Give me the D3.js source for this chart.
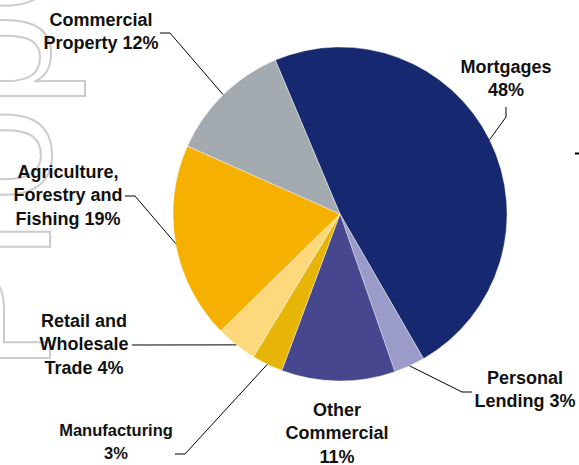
<!doctype html>
<html>
  <head>
    <script src="https://d3js.org/d3.v7.min.js"></script>
    <style>
      body { margin: 0; background: #fff; }
    </style>
  </head>
  <body>
    <script>
    // data
    var sectors = ['Mortgages', 'Personal Lending', 'Other Commercial', 'Manufacturing',
                   'Retail and Wholesale Trade', 'Agriculture, Forestry and Fishing', 'Commercial Property'];
    var shares = [48, 3, 11, 3, 4, 19, 12];
    var labelLines = [
      ['Mortgages', '48%'],
      ['Personal', 'Lending 3%'],
      ['Other', 'Commercial', '11%'],
      ['Manufacturing', '3%'],
      ['Retail and', 'Wholesale', 'Trade 4%'],
      ['Agriculture,', 'Forestry and', 'Fishing 19%'],
      ['Commercial', 'Property 12%']
    ];
    var colors = ['#162870', '#9b9bc9', '#46478f', '#e6b507', '#fdd87c', '#f5b000', '#a4abb0'];

    var width = 579;
    var height = 465;
    var cx = 340, cy = 214, radius = 167;

    // where each label sits, its size and the elbow of its leader line
    var labelLayout = [
      { x: 506, y: 67,  size: 18, elbow: [[506, 107], [506, 117]] },
      { x: 525, y: 378, size: 18, elbow: [[472, 392], [462, 392]] },
      { x: 337, y: 410, size: 18, elbow: null },
      { x: 116, y: 430, size: 16.5, elbow: [[175, 454], [185, 454]] },
      { x: 84,  y: 321, size: 18, elbow: [[132, 345]] },
      { x: 68,  y: 172, size: 18, elbow: [[125, 196], [135, 196]] },
      { x: 101, y: 20,  size: 18, elbow: [[160, 33], [170, 33]] }
    ];

    var data = sectors.map(function(s, i) {
      return { name: s, value: shares[i], color: colors[i], lines: labelLines[i], layout: labelLayout[i] };
    });

    var svg = d3.select('body')
              .append('svg')
              .attr('width', width)
              .attr('height', height);

    // faint outlined watermark on the left edge
    svg.append('text')
      .attr('transform', 'translate(50,372) rotate(-90)')
      .attr('font-family', 'Liberation Sans, Arial, sans-serif')
      .attr('font-size', 170)
      .attr('fill', 'none')
      .attr('stroke', '#cccccc')
      .attr('stroke-width', 2)
      .text('Property');

    var start = -22.8 * Math.PI / 180;
    var pie = d3.pie()
      .sort(null)
      .value(function(d) { return d.value; })
      .startAngle(start)
      .endAngle(start + 2 * Math.PI);

    var arc = d3.arc().innerRadius(0).outerRadius(radius);
    var edge = d3.arc().innerRadius(radius).outerRadius(radius);

    var g = svg.append('g')
      .attr('transform', 'translate(' + cx + ',' + cy + ')');

    var arcs = pie(data);

    g.selectAll('.slice')
      .data(arcs)
      .enter()
      .append('path')
        .attr('class', 'slice')
        .attr('d', arc)
        .attr('fill', function(d) { return d.data.color; })
        .attr('stroke', '#ffffff')
        .attr('stroke-width', 0.4);

    // leader lines from labels to the rim
    var line = d3.line();
    svg.selectAll('.leader')
      .data(arcs.filter(function(d) { return d.data.layout.elbow; }))
      .enter()
      .append('path')
        .attr('class', 'leader')
        .attr('fill', 'none')
        .attr('stroke', '#000')
        .attr('stroke-width', 1)
        .attr('d', function(d) {
          var c = edge.centroid(d);
          var pts = d.data.layout.elbow.slice();
          pts.push([c[0] + cx, c[1] + cy]);
          return line(pts);
        });

    var lineGap = 23.3;
    var labels = svg.selectAll('.label')
      .data(arcs)
      .enter()
      .append('text')
        .attr('class', 'label')
        .attr('text-anchor', 'middle')
        .attr('font-family', 'Liberation Sans, Arial, sans-serif')
        .attr('font-weight', 'bold')
        .attr('font-size', function(d) { return d.data.layout.size + 'px'; })
        .attr('fill', '#111');

    labels.each(function(d) {
      var t = d3.select(this);
      d.data.lines.forEach(function(l, i) {
        t.append('tspan')
          .attr('x', d.data.layout.x)
          .attr('y', d.data.layout.y + 6 + i * lineGap)
          .text(l);
      });
    });

    // small mark cut off at the right edge
    svg.append('line')
      .attr('x1', 575).attr('x2', 579)
      .attr('y1', 153.5).attr('y2', 153.5)
      .attr('stroke', '#000')
      .attr('stroke-width', 2);
    </script>
  </body>
</html>
